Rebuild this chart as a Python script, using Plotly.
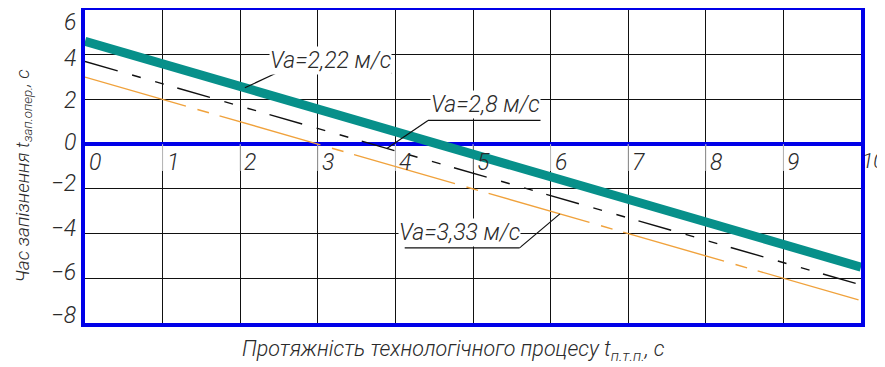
import plotly.graph_objects as go

# duration of the technological process, s
t_process = [0, 10]

# delay time for each transport speed, s
delay_222 = [4.6, -5.5]
delay_280 = [3.7, -6.3]
delay_333 = [3.0, -7.0]

speed_labels = ["Va=2,22 м/с", "Va=2,8 м/с", "Va=3,33 м/с"]

x_ticks = list(range(0, 11))
y_ticks = list(range(-8, 7, 2))

FONT = "Roboto, Open Sans, sans-serif"
BLUE = "#0000e8"
TEAL = "#07908a"
ORANGE = "#f0a23c"
TXT = dict(family=FONT, color="#2a2a2a", style="italic", weight=300)

fig = go.Figure()

fig.add_trace(go.Scatter(
    x=t_process, y=delay_333, mode="lines",
    line=dict(color=ORANGE, width=1.4, dash="105px,12px,12px,11px"),
    showlegend=False, hoverinfo="skip"
))
fig.add_trace(go.Scatter(
    x=t_process, y=delay_280, mode="lines",
    line=dict(color="#111111", width=1.4, dash="34px,15px,9px,15px,9px,14px"),
    showlegend=False, hoverinfo="skip"
))
fig.add_trace(go.Scatter(
    x=t_process, y=delay_222, mode="lines",
    line=dict(color=TEAL, width=9),
    showlegend=False, hoverinfo="skip"
))


def value_at(series, x):
    # straight line between the two end points
    x0, x1 = t_process
    return series[0] + (series[1] - series[0]) * (x - x0) / (x1 - x0)


# label placement: (point on line x, shelf start x, shelf end x, shelf y, text x, text y)
callouts = [
    (delay_222, 2.06, 2.46, 3.95, 3.17, 3.17, 3.75),
    (delay_280, 3.89, 4.42, 5.87, 1.06, 5.16, 1.77),
    (delay_333, 6.12, 5.6, 4.12, -4.64, 4.82, -3.93),
]
for (series, xp, xs, xe, ys, xt, yt), label in zip(callouts, speed_labels):
    fig.add_shape(type="line", x0=xp, y0=value_at(series, xp), x1=xs, y1=ys,
                  line=dict(color="#111111", width=1.2), layer="above")
    fig.add_shape(type="line", x0=xs, y0=ys, x1=xe, y1=ys,
                  line=dict(color="#111111", width=1.2), layer="above")
    fig.add_annotation(x=xt, y=yt, text=label, showarrow=False,
                       font=dict(TXT, size=23),
                       bgcolor="white", borderpad=0)

# light segments of the vertical grid under the x labels
for xv in x_ticks[1:-1]:
    fig.add_shape(type="line", x0=xv, x1=xv, y0=-1.2, y1=0,
                  line=dict(color="#c8c8c8", width=1), layer="between")

# x tick labels sit just below the zero line, right of each grid line
for xv in x_ticks:
    last = xv == x_ticks[-1]
    fig.add_annotation(x=xv, y=0, text=str(xv), showarrow=False,
                       xanchor="left", yanchor="top",
                       xshift=-1 if last else 2, yshift=-3,
                       font=dict(TXT, size=21 if last else 23))

# y tick labels, nudged like the hand-drawn original
y_nudge = {6: -12, 4: -4, 2: -1, 0: 2, -2: 5, -4: 5, -6: 6, -8: 8}
for yv in y_ticks:
    fig.add_annotation(x=0, y=yv, text=str(yv).replace("-", "−"), showarrow=False,
                       xanchor="right", yanchor="middle",
                       xshift=-7, yshift=y_nudge[yv],
                       font=dict(TXT, size=23))

fig.add_annotation(
    xref="paper", yref="paper", x=0, y=0.5, xanchor="center", yanchor="middle",
    xshift=-62, yshift=-10,
    text="Час запізнення t<sub>зап.опер.</sub>, с", textangle=-90, showarrow=False,
    font=dict(TXT, size=19)
)
fig.add_annotation(
    xref="paper", yref="paper", x=0.475, y=0, yshift=-27, yanchor="middle",
    text="Протяжність технологічного процесу t<sub>п.т.п.</sub>, с", showarrow=False,
    font=dict(TXT, size=21.5)
)

# the page body adds 8 px on the left and top, so the figure is drawn 8 px smaller
fig.update_layout(
    width=877, height=359,
    margin=dict(l=77, r=24, t=2, b=44),
    plot_bgcolor="white", paper_bgcolor="white",
    showlegend=False,
    xaxis=dict(
        range=[0, 10], tickvals=x_ticks, showticklabels=False, automargin=False,
        showgrid=True, gridcolor="#111111", gridwidth=1,
        zeroline=False, showline=True, linecolor=BLUE, linewidth=4, mirror=True,
        ticks=""
    ),
    yaxis=dict(
        range=[-8, 6], tickvals=y_ticks, showticklabels=False, automargin=False,
        showgrid=True, gridcolor="#111111", gridwidth=1,
        zeroline=True, zerolinecolor=BLUE, zerolinewidth=4,
        showline=True, linecolor=BLUE, linewidth=4, mirror=True,
        ticks=""
    ),
)

fig.write_html("out.html")
